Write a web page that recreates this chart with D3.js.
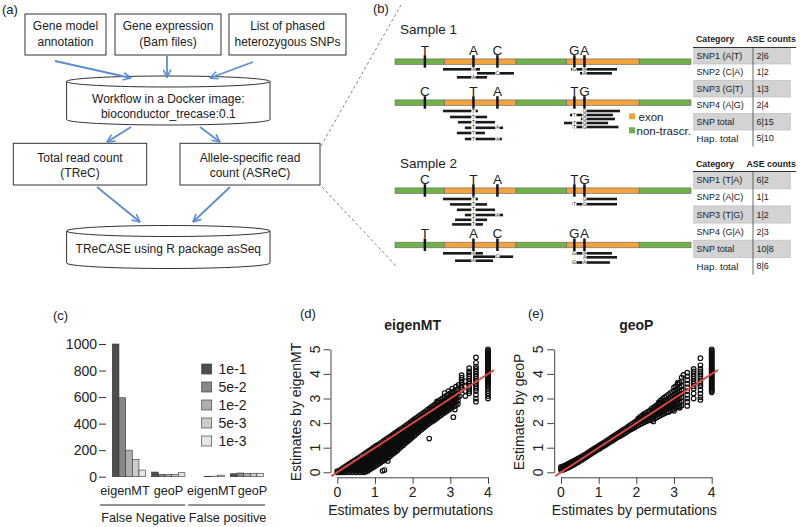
<!DOCTYPE html>
<html><head><meta charset="utf-8">
<script src="https://cdn.jsdelivr.net/npm/d3@7"></script>
<style>body{margin:0;background:#fff}svg{display:block}text{font-family:"Liberation Sans",Arial,sans-serif;fill:#222}</style>
</head><body>
<svg id="fig" width="800" height="527"></svg>
<script>
// ---------------- DATA ----------------
const panelLabels = ["(a)","(b)","(c)","(d)","(e)"];
// (a) workflow
const inputBoxes = [["Gene model","annotation"],["Gene expression","(Bam files)"],["List of phased","heterozygous SNPs"]];
const workflowText = ["Workflow in a Docker image:","bioconductor_trecase:0.1"];
const countBoxes = [["Total read count","(TReC)"],["Allele-specific read","count (ASReC)"]];
const finalText = ["TReCASE using R package asSeq"];
// (b) gene model (genomic units 0-100)
const segments = [[0,16.7,"non"],[16.7,40.9,"exon"],[40.9,58.0,"non"],[58.0,82.5,"exon"],[82.5,100,"non"]];
const snpPos = [10.1,26.5,34.6,60.6,64.0];
const sampleLabels = ["Sample 1","Sample 2"];
const trackAlleles = [["T","A","C","G","A"],["C","T","A","T","G"],["C","T","A","T","G"],["T","A","C","G","A"]];
// reads: [track, lane, start, end, snp indices shown]
const reads = [
 [0,0,16.2,28.7,[1]],[0,1,27.7,40.2,[2]],[0,2,20.9,31.1,[1]],[0,0,59.5,75.0,[3,4]],[0,1,62.5,73.3,[4]],
 [1,0,16.2,28.0,[1]],[1,1.5,18.6,31.1,[1]],[1,2.8,21.3,33.8,[1]],[1,4.2,23.6,36.5,[1,2]],[1,5.5,20.9,30.4,[1]],[1,7.0,23.6,36.1,[1,2]],
 [1,0,63.5,76.0,[4]],[1,1,59.1,73.6,[3,4]],[1,2,62.8,74.3,[4]],[1,3,57.1,72.0,[3,4]],[1,4,59.8,75.5,[3,4]],
 [2,0,16.2,28.0,[1]],[2,1.35,18.6,31.1,[1]],[2,2.7,20.9,33.8,[1]],[2,4.0,23.6,36.5,[1,2]],[2,5.2,20.3,31.1,[1]],[2,6.35,19.3,29.7,[1]],
 [2,0,63.5,75.0,[4]],[2,1.3,59.8,75.0,[3,4]],
 [3,0,16.2,29.7,[1]],[3,0.85,26.4,39.9,[2]],[3,1.85,20.3,33.1,[1]],[3,0,59.8,73.3,[3,4]],[3,1,64.2,75.0,[4]],[3,2.3,59.8,72.6,[3,4]]
];
const legendB = ["exon","non-trascr."];
const tableHeader = ["Category","ASE counts"];
const table1Cats = ["SNP1 (A|T)","SNP2 (C|A)","SNP3 (G|T)","SNP4 (A|G)","SNP total","Hap. total"];
const table1Counts = ["2|6","1|2","1|3","2|4","6|15","5|10"];
const table2Cats = ["SNP1 (T|A)","SNP2 (A|C)","SNP3 (T|G)","SNP4 (G|A)","SNP total","Hap. total"];
const table2Counts = ["6|2","1|1","1|2","2|3","10|8","8|6"];
// (c) bar chart
const thresholds = ["1e-1","5e-2","1e-2","5e-3","1e-3"];
const methods = ["eigenMT","geoP","eigenMT","geoP"];
const errorTypes = ["False Negative","False positive"];
const fnEigen = [1000,595,200,130,50];
const fnGeo = [35,18,18,18,30];
const fpEigen = [0,0,2,4,12];
const fpGeo = [22,28,24,26,26];
const yTicksC = [0,200,400,600,800,1000];
// (d) eigenMT scatter: columns [x, [y...]]
const eigenBand = [
[0.0,[0,0.05]],[0.05,[0,0.06]],[0.1,[0,0.06,0.12]],[0.15,[0,0.08,0.17]],[0.2,[0,0.1,0.22]],[0.25,[0.05,0.15,0.27]],
[0.3,[0,0.1,0.2,0.32]],[0.35,[0.05,0.15,0.25,0.37]],[0.4,[0,0.1,0.2,0.3,0.42]],[0.45,[0.05,0.15,0.25,0.35,0.47]],
[0.5,[0,0.1,0.2,0.3,0.4,0.52]],[0.55,[0.05,0.15,0.25,0.35,0.45,0.57]],
[0.6,[0,0.1,0.2,0.3,0.4,0.5,0.62]],[0.65,[0.05,0.15,0.25,0.35,0.45,0.55,0.67]],
[0.7,[0,0.1,0.2,0.3,0.4,0.5,0.6,0.72]],[0.75,[0.02,0.1,0.2,0.3,0.4,0.5,0.6,0.7,0.78]],
[0.8,[0.05,0.15,0.25,0.35,0.45,0.55,0.65,0.75,0.83]],[0.85,[0.1,0.2,0.3,0.4,0.5,0.6,0.7,0.8,0.88]],
[0.9,[0.15,0.25,0.35,0.45,0.55,0.65,0.75,0.85,0.93]],[0.95,[0.2,0.3,0.4,0.5,0.6,0.7,0.8,0.9,0.99]],
[1.0,[0.25,0.35,0.45,0.55,0.65,0.75,0.85,0.95,1.04]],[1.05,[0.3,0.4,0.5,0.6,0.7,0.8,0.9,1.0,1.09]],
[1.1,[0.35,0.45,0.55,0.65,0.75,0.85,0.95,1.05,1.14]],[1.15,[0.4,0.5,0.6,0.7,0.8,0.9,1.0,1.1,1.19]],
[1.2,[0.45,0.55,0.65,0.75,0.85,0.95,1.05,1.15,1.24]],[1.25,[0.5,0.6,0.7,0.8,0.9,1.0,1.1,1.2,1.3]],
[1.3,[0.55,0.65,0.75,0.85,0.95,1.05,1.15,1.25,1.35]],[1.35,[0.6,0.7,0.8,0.9,1.0,1.1,1.2,1.3,1.4]],
[1.4,[0.65,0.75,0.85,0.95,1.05,1.15,1.25,1.35,1.45]],[1.45,[0.72,0.82,0.92,1.02,1.12,1.22,1.32,1.42,1.5]],
[1.5,[0.78,0.88,0.98,1.08,1.18,1.28,1.38,1.48,1.56]],[1.55,[0.84,0.94,1.04,1.14,1.24,1.34,1.44,1.54,1.61]],
[1.6,[0.9,1.0,1.1,1.2,1.3,1.4,1.5,1.6,1.66]],[1.65,[0.98,1.08,1.18,1.28,1.38,1.48,1.58,1.66,1.72]],
[1.7,[1.05,1.15,1.25,1.35,1.45,1.55,1.65,1.77]],[1.75,[1.1,1.2,1.3,1.4,1.5,1.6,1.7,1.82]],
[1.8,[1.18,1.28,1.38,1.48,1.58,1.68,1.78,1.88]],[1.85,[1.24,1.34,1.44,1.54,1.64,1.74,1.84,1.93]],
[1.9,[1.3,1.4,1.5,1.6,1.7,1.8,1.9,1.99]],[1.95,[1.36,1.46,1.56,1.66,1.76,1.86,1.96,2.04]],
[2.0,[1.43,1.53,1.63,1.73,1.83,1.93,2.03,2.1]],[2.05,[1.5,1.6,1.7,1.8,1.9,2.0,2.08,2.16]],
[2.1,[1.57,1.67,1.77,1.87,1.97,2.07,2.14,2.21]],[2.15,[1.63,1.73,1.83,1.93,2.03,2.13,2.26]],
[2.2,[1.7,1.8,1.9,2.0,2.1,2.2,2.32]],[2.25,[1.76,1.86,1.96,2.06,2.16,2.26,2.37]],
[2.3,[1.82,1.92,2.02,2.12,2.22,2.32,2.43]],[2.35,[1.88,1.98,2.08,2.18,2.28,2.38,2.49]],
[2.4,[1.94,2.04,2.14,2.24,2.34,2.44,2.55]],[2.45,[2.0,2.1,2.2,2.3,2.4,2.5,2.6]],
[2.5,[2.05,2.15,2.25,2.35,2.45,2.55,2.66]],[2.55,[2.1,2.2,2.3,2.4,2.5,2.6,2.71]],
[2.6,[2.15,2.25,2.35,2.45,2.55,2.65,2.77]],[2.65,[2.21,2.31,2.41,2.51,2.61,2.71,2.83]],
[2.7,[2.27,2.37,2.47,2.57,2.67,2.77,2.9]],[2.75,[2.32,2.42,2.52,2.62,2.72,2.82,2.96]],
[2.8,[2.38,2.48,2.58,2.68,2.78,2.88,3.02]],[2.85,[2.43,2.53,2.63,2.73,2.83,2.93,3.07]],
[2.9,[2.48,2.58,2.68,2.78,2.88,2.98,3.12]],[2.95,[2.53,2.63,2.73,2.83,2.93,3.03,3.17]],
[3.0,[2.58,2.68,2.78,2.88,2.98,3.08,3.22]],[3.05,[2.63,2.75,2.87,3.0,3.12,3.26]],
[3.1,[2.68,2.8,2.92,3.05,3.18,3.3]],[3.15,[2.73,2.86,3.0,3.14,3.34]],[3.2,[2.78,2.92,3.06,3.2,3.38]],
[3.3,[3.35,3.45,3.55,3.65,3.75,3.85,3.95]],[3.4,[3.1,3.3,3.5,3.7]],
[3.5,[3.21,3.3,3.4,3.5,3.6,3.7,3.8,3.9,4.0,4.1,4.23]],
[3.68,[2.87,3.0,3.15,3.3,3.4,3.5,3.6,3.7,3.8,3.9,4.0,4.1,4.2,4.3,4.45,4.67]],
[4.0,[3.0,3.1,3.2,3.3,3.4,3.5,3.55,3.6,3.65,3.7,3.75,3.8,3.85,3.9,3.95,4.0,4.05,4.1,4.15,4.2,4.25,4.3,4.35,4.4,4.45,4.5,4.55,4.6,4.65,4.7,4.75,4.8,4.85,4.9,4.95,5.0]]
];
const eigenOut = [[1.2,0.06],[1.25,0.09],[1.34,0.46],[2.44,1.37],[3.08,2.24],[2.85,3.22],[2.95,3.3],[3.05,3.4],[3.15,3.48],[3.22,3.55],[2.65,2.88],[3.12,2.55],[3.25,3.1]];
// (e) geoP scatter
const geoBand = [
[0.0,[0.08,0.15,0.22]],[0.05,[0.1,0.17,0.24]],[0.1,[0.12,0.2,0.27]],[0.15,[0.16,0.24,0.31]],
[0.2,[0.2,0.28,0.35]],[0.25,[0.24,0.32,0.39]],[0.3,[0.28,0.36,0.43]],[0.35,[0.32,0.4,0.47]],
[0.4,[0.37,0.45,0.52]],[0.45,[0.41,0.49,0.56]],[0.5,[0.46,0.54,0.6]],[0.55,[0.5,0.58,0.64]],
[0.6,[0.55,0.63,0.69]],[0.65,[0.6,0.67,0.73]],[0.7,[0.65,0.72,0.78]],[0.75,[0.7,0.77,0.83]],
[0.8,[0.75,0.82,0.88]],[0.85,[0.8,0.87,0.93]],[0.9,[0.85,0.92,0.98]],[0.95,[0.9,0.96,1.02]],
[1.0,[0.94,1.01,1.07]],[1.05,[0.99,1.05,1.12]],[1.1,[1.04,1.1,1.17]],[1.15,[1.08,1.15,1.22]],
[1.2,[1.13,1.2,1.27]],[1.25,[1.18,1.25,1.32]],[1.3,[1.23,1.3,1.37]],[1.35,[1.27,1.35,1.42]],
[1.4,[1.32,1.4,1.47]],[1.45,[1.37,1.45,1.52]],[1.5,[1.42,1.5,1.57]],[1.55,[1.46,1.54,1.62]],
[1.6,[1.51,1.59,1.67]],[1.65,[1.55,1.64,1.72]],[1.7,[1.6,1.69,1.77]],[1.75,[1.65,1.74,1.82]],
[1.8,[1.7,1.79,1.88]],[1.85,[1.74,1.84,1.93]],[1.9,[1.78,1.88,1.98]],[1.95,[1.82,1.92,2.03]],
[2.0,[1.87,1.97,2.08]],[2.05,[1.91,2.01,2.12,2.18]],[2.1,[1.95,2.06,2.17,2.25]],[2.15,[1.99,2.1,2.21,2.3]],
[2.2,[2.03,2.14,2.26,2.36]],[2.25,[2.06,2.18,2.3,2.41]],[2.3,[2.1,2.22,2.34,2.46]],[2.35,[2.12,2.24,2.36,2.48]],
[2.4,[2.13,2.25,2.38,2.5,2.58]],[2.45,[2.17,2.28,2.41,2.54,2.63]],[2.5,[2.2,2.32,2.45,2.58,2.68]],
[2.55,[2.24,2.36,2.48,2.62,2.74]],[2.6,[2.28,2.4,2.52,2.65,2.8]],[2.65,[2.32,2.44,2.56,2.68,2.83,2.92]],
[2.7,[2.36,2.48,2.6,2.72,2.86,2.98]],[2.75,[2.4,2.52,2.64,2.76,2.9,3.04]],[2.8,[2.44,2.56,2.68,2.8,2.94,3.1]],
[2.85,[2.47,2.6,2.73,2.86,3.0,3.16]],[2.9,[2.5,2.64,2.78,2.92,3.06,3.22]],[2.95,[2.54,2.68,2.82,2.96,3.1,3.27]],
[3.0,[2.58,2.72,2.86,3.0,3.15,3.32,3.45]],[3.05,[2.62,2.76,2.9,3.05,3.2,3.36,3.5]],
[3.1,[2.65,2.8,2.95,3.1,3.25,3.4,3.58]],[3.15,[2.68,2.84,3.0,3.15,3.3,3.46,3.64]],
[3.2,[2.72,2.88,3.05,3.2,3.35,3.52,3.7,3.85]],
[3.35,[2.7,2.87,3.0,3.15,3.3,3.45,3.6,3.75,3.9,4.05]],
[3.52,[3.0,3.2,3.4,3.5,3.6,3.7,3.8,3.9,4.0,4.1,4.2]],
[3.7,[2.94,3.05,3.2,3.35,3.5,3.6,3.7,3.8,3.9,4.0,4.1,4.2,4.35,4.64]],
[4.0,[3.25,3.3,3.35,3.4,3.45,3.5,3.55,3.6,3.65,3.7,3.75,3.8,3.85,3.9,3.95,4.0,4.05,4.1,4.15,4.2,4.25,4.3,4.35,4.4,4.45,4.5,4.55,4.6,4.65,4.7,4.75,4.8,4.85,4.9,4.95,5.0]]
];
const geoOut = [[2.45,2.07],[2.35,2.5],[2.6,2.85],[2.75,3.05],[2.85,2.45],[3.0,2.5],[3.15,2.62],[3.25,3.96],[3.1,3.65]];
const xTicksDE = [0,1,2,3,4];
const yTicksDE = [0,1,2,3,4,5];

// ---------------- DRAW ----------------
const svg = d3.select("#fig");
svg.append("rect").attr("width",800).attr("height",527).attr("fill","#fff");
const labelPos = [[2,14],[373,13],[53,320],[300,318],[528,318]];
panelLabels.forEach((t,i)=>svg.append("text").attr("x",labelPos[i][0]).attr("y",labelPos[i][1]).attr("font-size",13).text(t));

// ===== Panel (a) =====
const BLUE = "#5b8dd6";
const defs = svg.append("defs");
defs.append("marker").attr("id","ah").attr("viewBox","0 0 10 10").attr("refX",9.5).attr("refY",5)
  .attr("markerWidth",9).attr("markerHeight",9).attr("markerUnits","userSpaceOnUse").attr("orient","auto")
  .append("path").attr("d","M0.8,0.8 L9.5,5 L0.8,9.2").attr("fill","none").attr("stroke",BLUE).attr("stroke-width",1.8);
const gA = svg.append("g");
function box(x,y,w,h,lines,c1){
  gA.append("rect").attr("x",x).attr("y",y).attr("width",w).attr("height",h).attr("fill","#fff").attr("stroke","#333").attr("stroke-width",1);
  lines.forEach((l,j)=>gA.append("text").attr("x",x+w/2).attr("y",c1+j*15.5).attr("text-anchor","middle").attr("dominant-baseline","middle").attr("font-size",12).text(l));
}
const inputRects = [[25,14,81,41],[115,14,106,41],[229,14,117,41]];
inputBoxes.forEach((l,i)=>box(...inputRects[i],l,27));
const countRects = [[13.3,143.3,133.4,41.7],[180,143.3,140,41.7]];
countBoxes.forEach((l,i)=>box(...countRects[i],l,158.5));
function cyl(cx,rx,ry,top,bot,lines,c1){
  const x0=cx-rx,x1=cx+rx;
  gA.append("path").attr("d",`M${x0},${top} L${x0},${bot} A${rx},${ry} 0 0 0 ${x1},${bot} L${x1},${top} A${rx},${ry} 0 0 0 ${x0},${top} A${rx},${ry} 0 0 0 ${x1},${top}`)
    .attr("fill","#fff").attr("stroke","#333").attr("stroke-width",1);
  lines.forEach((l,j)=>gA.append("text").attr("x",cx).attr("y",c1+j*15).attr("text-anchor","middle").attr("dominant-baseline","middle").attr("font-size",12).text(l));
}
cyl(168.3,101.7,5.5,81.5,119.5,workflowText,99.5);
cyl(168.3,101.7,5.5,231,263,finalText,250);
const arrows = [[55,61,131,78],[167,56,167,77.5],[253,62,210,78],[131,127,107,142],[200,127,220,142],[97,187,140,222],[230,187,193,222]];
arrows.forEach(a=>gA.append("line").attr("x1",a[0]).attr("y1",a[1]).attr("x2",a[2]).attr("y2",a[3]).attr("stroke",BLUE).attr("stroke-width",1.8).attr("marker-end","url(#ah)"));
[[321,146,401,5],[322,187,396,266]].forEach(a=>gA.append("line").attr("x1",a[0]).attr("y1",a[1]).attr("x2",a[2]).attr("y2",a[3]).attr("stroke","#777").attr("stroke-width",0.9).attr("stroke-dasharray","3,2.5"));

// ===== Panel (b) =====
const gB = svg.append("g");
const gx = d3.scaleLinear().domain([0,100]).range([395,691]);
const trackY = [61.7,102.7,190.7,245];
const laneOff = [7.6,8.3,8.3,8.3];
const segColor = {exon:"#f1a33e", non:"#6fb24a"};
const sampleY = [34,168];
sampleLabels.forEach((s,i)=>gB.append("text").attr("x",400).attr("y",sampleY[i]).attr("font-family","'Open Sans',sans-serif").attr("font-size",13.5).attr("fill","#333").text(s));
trackAlleles.forEach((al,t)=>{
  const ty = trackY[t];
  segments.forEach(s=>gB.append("rect").attr("x",gx(s[0])).attr("y",ty-2.8).attr("width",gx(s[1])-gx(s[0])).attr("height",5.6)
    .attr("fill",segColor[s[2]]).attr("stroke","#666").attr("stroke-width",0.6));
  snpPos.forEach((p,k)=>{
    gB.append("rect").attr("x",gx(p)-1.25).attr("y",ty-6.5).attr("width",2.5).attr("height",12.5).attr("fill","#151515");
    gB.append("text").attr("x",gx(p)).attr("y",ty-7).attr("text-anchor","middle").attr("font-size",13.5).attr("fill","#222").text(al[k]);
  });
});
reads.forEach(r=>{
  const [t,lane,s,e,sn] = r;
  const y = trackY[t]+laneOff[t]+lane*4;
  gB.append("rect").attr("x",gx(s)).attr("y",y-1.3).attr("width",gx(e)-gx(s)).attr("height",2.6).attr("fill","#1a1a1a");
  sn.forEach(k=>{
    gB.append("rect").attr("x",gx(snpPos[k])-2.1).attr("y",y-2.1).attr("width",4.2).attr("height",4.2).attr("fill","#fff");
    gB.append("text").attr("x",gx(snpPos[k])).attr("y",y).attr("text-anchor","middle").attr("dominant-baseline","central").attr("font-size",4.6).attr("fill","#666").text(trackAlleles[t][k]);
  });
});
legendB.forEach((l,i)=>{
  gB.append("rect").attr("x",629).attr("y",113.3+i*14).attr("width",6).attr("height",6).attr("fill",i===0?segColor.exon:segColor.non);
  gB.append("text").attr("x",i===0?638.5:636.5).attr("y",120.5+i*14).attr("font-size",11.5).attr("fill","#333").text(l);
});
function table(cats,counts,headY,top,step){
  const g = gB.append("g");
  g.append("text").attr("x",696).attr("y",headY).attr("font-size",8.8).attr("font-weight","bold").text(tableHeader[0]);
  g.append("text").attr("x",746.5).attr("y",headY).attr("font-size",8.8).attr("font-weight","bold").text(tableHeader[1]);
  const ry = d3.scaleBand().domain(d3.range(cats.length)).range([top,top+step*cats.length]);
  cats.forEach((c,i)=>{
    if(i%2===0) g.append("rect").attr("x",693).attr("y",ry(i)).attr("width",98).attr("height",step).attr("fill","#d3d3d3");
    if(i>0) g.append("line").attr("x1",693).attr("x2",791).attr("y1",ry(i)).attr("y2",ry(i)).attr("stroke","#b5b5b5").attr("stroke-width",0.6);
    const last = i===cats.length-1;
    g.append("text").attr("x",696.5).attr("y",ry(i)+step/2).attr("dominant-baseline","central")
      .attr("font-family",last?"'Liberation Sans',Arial,sans-serif":"'Open Sans',sans-serif").attr("font-size",last?9.8:9).attr("fill","#333").text(c);
    g.append("text").attr("x",756.5).attr("y",ry(i)+step/2).attr("dominant-baseline","central")
      .attr("font-family","'Open Sans',sans-serif").attr("font-size",9).attr("fill","#333").text(counts[i]);
  });
  g.append("line").attr("x1",693).attr("x2",796).attr("y1",top).attr("y2",top).attr("stroke","#333").attr("stroke-width",1);
  g.append("line").attr("x1",753).attr("x2",753).attr("y1",top).attr("y2",top+step*cats.length).attr("stroke","#444").attr("stroke-width",0.8);
}
table(table1Cats,table1Counts,42,47.5,16.5);
table(table2Cats,table2Counts,166.5,171.5,17.2);

// ===== Panel (c) =====
const gC = svg.append("g");
const yC = d3.scaleLinear().domain([0,1000]).range([476.7,344]);
const groupVals = [fnEigen,fnGeo,fpEigen,fpGeo];
const xG = d3.scaleBand().domain(d3.range(4)).range([112.3,263.6]).paddingInner(0.153);
const xT = d3.scaleBand().domain(thresholds).range([0,xG.bandwidth()]);
const grays = ["#4d4d4d","#888888","#aeaeae","#cccccc","#e6e6e6"];
groupVals.forEach((vals,gi)=>vals.forEach((v,ti)=>{
  gC.append("rect").attr("x",xG(gi)+xT(thresholds[ti])).attr("y",yC(v)).attr("width",xT.bandwidth()).attr("height",yC(0)-yC(v))
    .attr("fill",grays[ti]).attr("stroke","#333").attr("stroke-width",0.6);
}));
const axC = gC.append("g").attr("transform","translate(106,0)").call(d3.axisLeft(yC).tickValues(yTicksC).tickSize(7).tickPadding(2).tickFormat(d3.format("d")));
axC.select(".domain").remove();
axC.selectAll("text").attr("font-size",14).attr("font-family","'Liberation Sans',Arial,sans-serif").attr("fill","#222");
axC.selectAll("line").attr("stroke","#333");
thresholds.forEach((t,i)=>{
  gC.append("rect").attr("x",201.7).attr("y",364+i*18).attr("width",10).attr("height",10).attr("fill",grays[i]).attr("stroke","#444").attr("stroke-width",0.7);
  gC.append("text").attr("x",218.5).attr("y",369+i*18).attr("dominant-baseline","central").attr("font-size",14).text(t);
});
const methodX = [125,168.5,211.7,252.5];
methods.forEach((m,i)=>gC.append("text").attr("x",methodX[i]).attr("y",495).attr("text-anchor","middle").attr("font-size",12.7).text(m));
[[100,185],[188.3,265]].forEach((l,i)=>{
  gC.append("line").attr("x1",l[0]).attr("x2",l[1]).attr("y1",505).attr("y2",505).attr("stroke","#222").attr("stroke-width",1);
  gC.append("text").attr("x",(l[0]+l[1])/2+1).attr("y",522).attr("text-anchor","middle").attr("font-size",12.7).text(errorTypes[i]);
});

// ===== Panels (d),(e) =====
function scatter(x0,band,outs,title,ylab){
  const g = svg.append("g");
  const xS = d3.scaleLinear().domain([0,4]).range([x0,x0+150.7]);
  const yS = d3.scaleLinear().domain([0,5]).range([472.3,349.3]);
  const pts = band.flatMap(([x,ys])=>ys.map(y=>[x,y])).concat(outs);
  g.selectAll("circle").data(pts).join("circle").attr("cx",d=>xS(d[0])).attr("cy",d=>yS(d[1])).attr("r",2.3)
    .attr("fill","none").attr("stroke","#0d0d0d").attr("stroke-width",1.15);
  g.append("path").attr("d",d3.line().x(d=>xS(d[0])).y(d=>yS(d[1]))([[-0.16,-0.16],[4.16,4.16]]))
    .attr("stroke","#e5473c").attr("stroke-width",2).attr("fill","none");
  const ax = xS(-0.18);
  const ly = g.append("g").attr("transform",`translate(${ax},0)`).call(d3.axisLeft(yS).tickValues(yTicksDE).tickSize(7).tickSizeOuter(0).tickFormat(""));
  ly.selectAll("line,path").attr("stroke","#444");
  yTicksDE.forEach(v=>g.append("text").attr("transform",`translate(${ax-16},${yS(v)}) rotate(-90)`).attr("text-anchor","middle").attr("dominant-baseline","central").attr("font-size",14).text(v));
  const bx = g.append("g").attr("transform","translate(0,477.3)").call(d3.axisBottom(xS).tickValues(xTicksDE).tickSize(6.5).tickSizeOuter(0).tickFormat(""));
  bx.selectAll("line,path").attr("stroke","#444");
  xTicksDE.forEach(v=>g.append("text").attr("x",xS(v)).attr("y",491.7).attr("text-anchor","middle").attr("dominant-baseline","central").attr("font-size",14).text(v));
  g.append("text").attr("x",xS(2)).attr("y",330).attr("text-anchor","middle").attr("font-size",14).attr("font-weight","bold").text(title);
  g.append("text").attr("transform",`translate(${ax-35},412) rotate(-90)`).attr("text-anchor","middle").attr("dominant-baseline","central").attr("font-size",14).text(ylab);
  g.append("text").attr("x",xS(2)-2).attr("y",510).attr("text-anchor","middle").attr("dominant-baseline","central").attr("font-size",14).text("Estimates by permutations");
}
scatter(337.3,eigenBand,eigenOut,"eigenMT","Estimates by eigenMT");
scatter(561,geoBand,geoOut,"geoP","Estimates by geoP");
</script>
</body></html>
